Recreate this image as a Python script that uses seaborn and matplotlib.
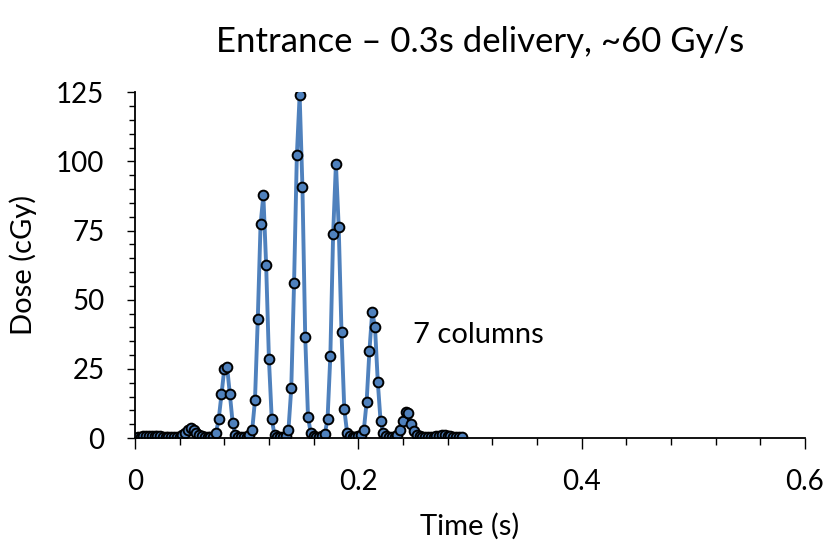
import matplotlib
matplotlib.use("Agg")
import matplotlib.pyplot as plt
from matplotlib.ticker import MultipleLocator, FuncFormatter
import pandas as pd
import seaborn as sns

# Detector readout sampled every 2.5 ms during a 0.3 s delivery
time_s = [
    0.0000, 0.0025, 0.0050, 0.0075, 0.0100, 0.0125, 0.0150, 0.0175, 0.0200, 0.0225,
    0.0250, 0.0275, 0.0300, 0.0325, 0.0350, 0.0375, 0.0400, 0.0425, 0.0450, 0.0475,
    0.0500, 0.0525, 0.0550, 0.0575, 0.0600, 0.0625, 0.0650, 0.0675, 0.0700, 0.0725,
    0.0750, 0.0775, 0.0800, 0.0825, 0.0850, 0.0875, 0.0900, 0.0925, 0.0950, 0.0975,
    0.1000, 0.1025, 0.1050, 0.1075, 0.1100, 0.1125, 0.1150, 0.1175, 0.1200, 0.1225,
    0.1250, 0.1275, 0.1300, 0.1325, 0.1350, 0.1375, 0.1400, 0.1425, 0.1450, 0.1475,
    0.1500, 0.1525, 0.1550, 0.1575, 0.1600, 0.1625, 0.1650, 0.1675, 0.1700, 0.1725,
    0.1750, 0.1775, 0.1800, 0.1825, 0.1850, 0.1875, 0.1900, 0.1925, 0.1950, 0.1975,
    0.2000, 0.2025, 0.2050, 0.2075, 0.2100, 0.2125, 0.2150, 0.2175, 0.2200, 0.2225,
    0.2250, 0.2275, 0.2300, 0.2325, 0.2350, 0.2375, 0.2400, 0.2425, 0.2450, 0.2475,
    0.2500, 0.2525, 0.2550, 0.2575, 0.2600, 0.2625, 0.2650, 0.2675, 0.2700, 0.2725,
    0.2750, 0.2775, 0.2800, 0.2825, 0.2850, 0.2875, 0.2900, 0.2925,
]

dose_cgy = [
    0.2, 0.3, 0.5, 0.6, 0.7, 0.8, 0.8, 0.8, 0.7, 0.6,
    0.5, 0.4, 0.3, 0.3, 0.3, 0.3, 0.5, 1.0, 1.7, 2.9,
    3.5, 3.1, 1.9, 1.1, 0.6, 0.4, 0.3, 0.3, 0.5, 1.7,
    6.8, 15.8, 24.9, 25.8, 15.9, 5.5, 1.1, 0.5, 0.3, 0.3,
    0.5, 1.0, 2.9, 13.7, 43.0, 77.2, 87.8, 62.5, 28.5, 7.0,
    1.1, 0.5, 0.3, 0.4, 0.9, 3.1, 18.0, 55.9, 102.2, 123.9,
    90.8, 36.6, 7.7, 1.7, 0.6, 0.3, 0.3, 0.6, 1.4, 6.9,
    29.6, 73.6, 99.2, 76.3, 38.2, 10.4, 2.0, 0.6, 0.3, 0.3,
    0.6, 1.0, 2.9, 13.1, 31.5, 45.6, 40.2, 20.3, 6.1, 1.7,
    0.6, 0.3, 0.3, 0.5, 1.0, 2.9, 6.1, 9.5, 8.9, 5.1,
    2.5, 1.1, 0.6, 0.4, 0.3, 0.3, 0.4, 0.5, 0.7, 0.9,
    1.0, 1.0, 0.9, 0.7, 0.5, 0.4, 0.3, 0.3,
]

title_text = "Entrance – 0.3s delivery, ~60 Gy/s"
note_text = "7 columns"
x_label = "Time (s)"
y_label = "Dose (cGy)"

sns.set_style("ticks")
plt.rcParams["font.family"] = ["Lato", "DejaVu Sans"]
plt.rcParams["text.color"] = "black"
plt.rcParams["axes.labelcolor"] = "black"
plt.rcParams["xtick.color"] = "black"
plt.rcParams["ytick.color"] = "black"

line_blue = "#4F81BD"

fig = plt.figure(figsize=(8.28, 5.49), dpi=100)
ax = fig.add_axes([0.163, 0.202, 0.809, 0.630])

df = pd.DataFrame({x_label: time_s, y_label: dose_cgy})
sns.lineplot(
    data=df, x=x_label, y=y_label, ax=ax,
    color=line_blue, linewidth=2.8,
    marker="o", markersize=7,
    markerfacecolor=line_blue, markeredgecolor="black", markeredgewidth=1.4,
)

ax.set_xlim(0, 0.6)
ax.set_ylim(0, 125)
ax.xaxis.set_major_locator(MultipleLocator(0.2))
ax.xaxis.set_minor_locator(MultipleLocator(0.04))
ax.yaxis.set_major_locator(MultipleLocator(25))
ax.yaxis.set_minor_locator(MultipleLocator(5))
ax.xaxis.set_major_formatter(FuncFormatter(lambda v, p: f"{v:g}"))
ax.yaxis.set_major_formatter(FuncFormatter(lambda v, p: f"{v:g}"))

sns.despine(ax=ax)
for side in ("left", "bottom"):
    ax.spines[side].set_linewidth(1.3)
    ax.spines[side].set_color("black")

ax.tick_params(axis="both", which="both", direction="out", color="black", width=1.0)
ax.tick_params(axis="x", which="major", length=8, pad=14, labelsize=20)
ax.tick_params(axis="x", which="minor", length=5)
ax.tick_params(axis="y", which="major", length=6, pad=16, labelsize=20)
ax.tick_params(axis="y", which="minor", length=4)

ax.set_xlabel(x_label, fontsize=21)
ax.set_ylabel(y_label, fontsize=21)
ax.xaxis.set_label_coords(0.5, -0.215)
ax.yaxis.set_label_coords(-0.146, 0.5)

ax.text(0.249, 37.2, note_text, fontsize=21, va="center", ha="left")
fig.text(480 / 828, 1 - 42 / 549, title_text, fontsize=25, ha="center", va="center")

fig.savefig("out.png", dpi=100)
